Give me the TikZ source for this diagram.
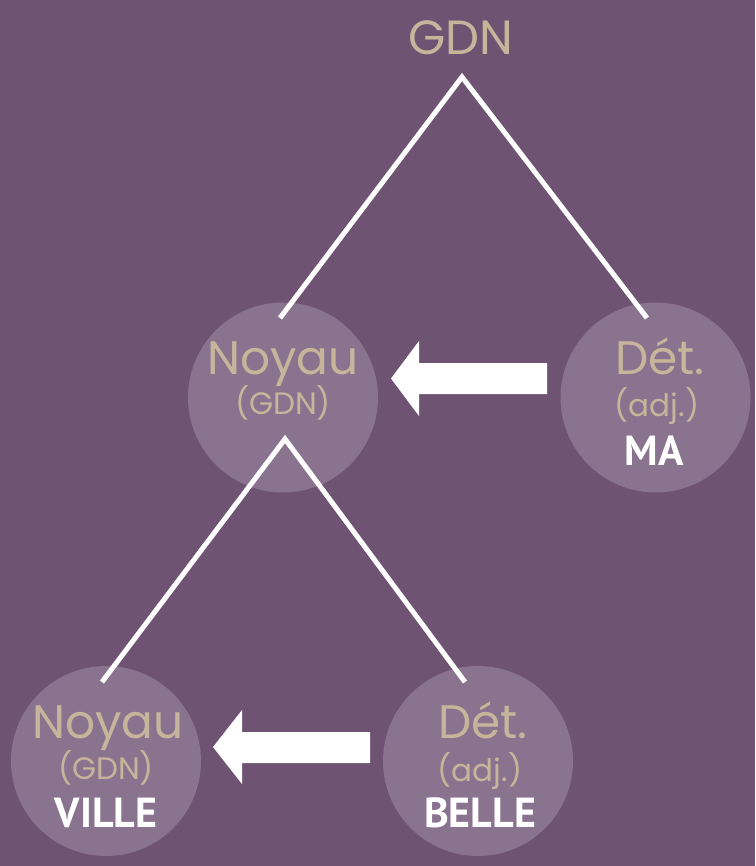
\documentclass[tikz,border=0pt]{standalone}
\usepackage{fontspec}
\setmainfont{Poppins}
\newfontfamily\boldf{PT Sans}[BoldFont={* Bold}]
\definecolor{bgpurple}{HTML}{6E5372}
\definecolor{circfill}{HTML}{8A738E}
\definecolor{beige}{HTML}{C7B59B}
\begin{document}
\begin{tikzpicture}[x=1pt,y=-1pt,
  bubble/.style={circle,fill=circfill,minimum size=190pt,inner sep=0pt},
  toptxt/.style={text=beige,font=\fontsize{48}{48}\selectfont,inner sep=0pt},
  bigtxt/.style={text=beige,font=\fontsize{47}{47}\selectfont,inner sep=0pt},
  midtxt/.style={text=beige,font=\fontsize{31}{31}\selectfont,inner sep=0pt},
  wtxt/.style={text=white,font=\boldf\bfseries\fontsize{42}{42}\selectfont,inner sep=0pt},
  branch/.style={draw=white,line width=5pt},
  fatarrow/.style={fill=white}]
\fill[bgpurple] (0,0) rectangle (755,866);
\useasboundingbox (0,0) rectangle (755,866);

\node[bubble] (c1) at (283,397.5) {};
\node[bubble] (c2) at (655.5,397.5) {};
\node[bubble] (c3) at (106,761) {};
\node[bubble] (c4) at (478,761) {};

\node[toptxt,anchor=base] (top) at (461,55) {GDN};

\node[bigtxt,anchor=base] (n1) at (283,374) {Noyau};
\node[midtxt,anchor=base] (g1) at (283,414) {(GDN)};

\node[bigtxt,anchor=base] (d2) at (660,374) {Dét.};
\node[midtxt,anchor=base] (a2) at (657,416) {(adj.)};
\node[wtxt,anchor=base] (m2) at (654,465) {MA};

\node[bigtxt,anchor=base] (n3) at (108,738) {Noyau};
\node[midtxt,anchor=base] (g3) at (106,779) {(GDN)};
\node[wtxt,anchor=base] (v3) at (106,827) {VILLE};

\node[bigtxt,anchor=base] (d4) at (483,738) {Dét.};
\node[midtxt,anchor=base] (a4) at (480,781) {(adj.)};
\node[wtxt,anchor=base] (b4) at (480,827) {BELLE};

\coordinate (apex1) at (462,77);
\coordinate (e1) at (280,318);
\coordinate (e2) at (647,318);
\coordinate (apex2) at (285,439);
\coordinate (e3) at (102,682);
\coordinate (e4) at (465,682);

\draw[branch] (e1) -- (apex1) -- (e2);
\draw[branch] (e3) -- (apex2) -- (e4);

\fill[fatarrow] (391,378.5) -- (419,341) -- (419,363) -- (547,363) -- (547,394) -- (419,394) -- (419,416) -- cycle;
\fill[fatarrow] (213,747) -- (242,710) -- (242,732) -- (370,732) -- (370,763) -- (242,763) -- (242,784) -- cycle;
\end{tikzpicture}
\end{document}
